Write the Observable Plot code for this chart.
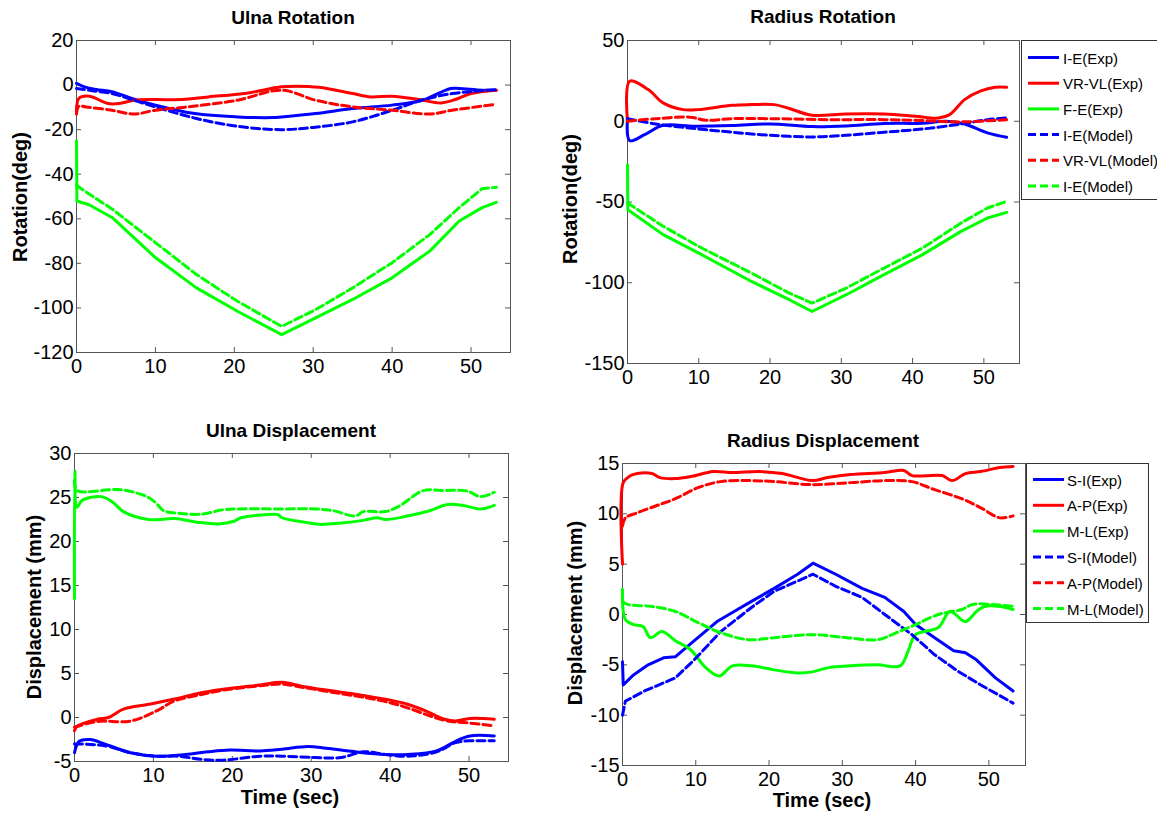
<!DOCTYPE html>
<html>
<head>
<meta charset="utf-8">
<script src="https://cdn.jsdelivr.net/npm/d3@7"></script>
<script src="https://cdn.jsdelivr.net/npm/@observablehq/plot@0.6"></script>
<style>
html,body{margin:0;padding:0;background:#fff;}
#wrap{position:relative;width:1157px;height:813px;overflow:hidden;background:#fff;font-family:"Liberation Sans",Arial,sans-serif;color:#000;}
.lbl{position:absolute;transform:translate(-50%,-50%);white-space:nowrap;font-weight:bold;}
.vlbl{position:absolute;transform:translate(-50%,-50%) rotate(-90deg);white-space:nowrap;font-weight:bold;}
.legend{position:absolute;border:1px solid #333;background:#fff;box-sizing:border-box;}
.legend .txt{position:absolute;transform:translateY(-50%);white-space:nowrap;font-size:15px;}
.legend svg{position:absolute;left:0;top:0;overflow:visible;}
</style>
</head>
<body>
<div id="wrap"></div>
<script>
// ---------------- data (time sec, value) ----------------
const xTicks = [0, 10, 20, 30, 40, 50];
const ulnaRotYTicks = [20, 0, -20, -40, -60, -80, -100, -120];
const radiusRotYTicks = [50, 0, -50, -100, -150];
const ulnaDispYTicks = [30, 25, 20, 15, 10, 5, 0, -5];
const radiusDispYTicks = [15, 10, 5, 0, -5, -10, -15];

// Ulna Rotation
const ulnaRot_IE_Exp = [[0,0.8],[1,-0.8],[2.5,-2],[4.5,-3],[7,-6],[10,-9],[15,-12.8],[20.4,-14.3],[24.9,-14.6],[26,-14.3],[30.3,-12.8],[35,-10.5],[40,-9],[43.9,-6.8],[46,-3.5],[47.4,-1.5],[48.5,-1.5],[51.4,-2.3],[53.2,-2.3]];
const ulnaRot_VRVL_Exp = [[0,-12],[0.3,-6],[1.6,-5],[4,-8.3],[5.4,-8.3],[7.3,-6.8],[10,-6.5],[13.4,-6.5],[16.7,-5.3],[21.3,-3.8],[26,-0.8],[27.9,-0.5],[30.7,-1],[35,-3.8],[37.3,-5.3],[40,-5],[43.4,-6.5],[46.2,-8],[48,-6.5],[50,-3.8],[53.2,-2.3]];
const ulnaRot_FE_Exp = [[0,-25],[0.05,-52],[1.6,-53.7],[4.5,-59.4],[10,-77.4],[15.2,-91],[20.4,-101.5],[26,-112],[30.3,-104.5],[35,-96.2],[40,-86.5],[44.8,-74.4],[48.5,-61],[51.4,-55],[53.2,-52.6]];
const ulnaRot_IE_Model = [[0,-1.5],[2,-2.5],[4.5,-3.8],[7,-6.5],[10,-9.8],[15.2,-15],[20.4,-18.5],[26,-20],[30,-19],[35,-16.5],[40,-11.3],[44,-6.5],[47.6,-3.8],[50.5,-2.8],[53.2,-2]];
const ulnaRot_VRVL_Model = [[0,-13],[0.3,-9.5],[1.2,-9.8],[4.5,-11.3],[7.3,-13],[10,-11.3],[14.8,-9.5],[20.4,-6.8],[26,-2.3],[30.3,-6.8],[35,-9.8],[40,-11.3],[44.8,-13],[47.6,-11.3],[53.2,-8.6]];
const ulnaRot_FE_Model = [[0,-45],[1.6,-48.9],[4.5,-55.6],[10,-70.7],[15.2,-85],[20.4,-97],[26,-108.3],[30.3,-100.8],[35,-91],[40,-79.7],[44.8,-67],[48.5,-55],[51.4,-46.5],[53.2,-45.9]];

// Radius Rotation
const radiusRot_IE_Exp = [[0,2],[0.3,-12],[2.4,-8.3],[5,-2.5],[9.4,-3.1],[14.7,-2.7],[20,-1.7],[25.9,-3.3],[30.7,-2.9],[36,-1.4],[41.4,-1.2],[44.7,0],[47.3,-1.7],[50.5,-7.2],[53.2,-9.9]];
const radiusRot_VRVL_Exp = [[0,0],[0.3,24.8],[2.9,19.6],[5,11.4],[7.8,7.2],[9.9,7.2],[14.7,9.9],[17.4,10.3],[20.6,10.3],[22.7,7.9],[25.9,3.7],[30.7,4.5],[36,4.5],[40.4,3.1],[43.6,2],[45.2,4.1],[47.3,13.4],[49.5,18.6],[51.6,21],[53.2,21]];
const radiusRot_FE_Exp = [[0,-27],[0.05,-54.8],[5,-70.2],[10.4,-82.6],[17.4,-99.2],[22.7,-110.5],[25.9,-117.8],[30.7,-107.4],[36,-95],[41.4,-82.6],[46.8,-68.2],[50.5,-59.9],[53.2,-56.4]];
const radiusRot_IE_Model = [[0,1.6],[4,-1.7],[9.4,-4.5],[14.7,-6.8],[20,-8.7],[25.9,-9.7],[30.7,-8.7],[36,-6.8],[41.4,-4.8],[46.8,-1.7],[50.5,1],[53.2,2]];
const radiusRot_VRVL_Model = [[0,0],[4,1.6],[8.8,2.5],[11,0.6],[14.7,1.6],[20,1.6],[28,1],[36,1],[41.4,0.4],[46.8,-0.4],[53.2,1]];
const radiusRot_FE_Model = [[0,-50.6],[5,-65],[10.4,-78.5],[17.4,-94],[22.7,-106.4],[25.9,-112.6],[30.7,-103.3],[36,-90.9],[41.4,-78.5],[46.8,-63],[50.5,-53.7],[53.2,-49.6]];

// Ulna Displacement
const ulnaDisp_SI_Exp = [[0,-4],[0.6,-2.7],[2,-2.5],[3.8,-3],[7.1,-4],[10.4,-4.4],[14.1,-4.2],[16.9,-3.9],[19.7,-3.7],[23.5,-3.8],[26.3,-3.6],[29.6,-3.3],[31.9,-3.5],[35.6,-3.9],[39.4,-4.2],[42.2,-4.2],[45.9,-3.8],[48.3,-2.7],[50.1,-2.1],[53.2,-2.1]];
const ulnaDisp_AP_Exp = [[0,-1.5],[0.3,-1],[2.9,-0.2],[4.3,0],[6.2,0.95],[9.4,1.5],[12.7,2.1],[15.5,2.7],[18.8,3.2],[23.5,3.7],[26.3,4],[29.1,3.5],[32.8,3],[36.6,2.5],[39.9,2],[42.2,1.5],[44.5,0.75],[46.9,-0.2],[48.3,-0.4],[50.1,-0.1],[53.2,-0.2]];
const ulnaDisp_ML_Exp = [[0,13.5],[0.05,28],[0.3,23.9],[1,24.7],[3.4,25.1],[4.8,24.5],[6.2,23.4],[9.4,22.5],[12.7,22.6],[15.5,22.2],[18.3,22],[20.2,22.3],[21.1,22.7],[23.5,23],[25.8,23.05],[26.3,22.7],[29.1,22.2],[31,21.95],[33.8,22.1],[36.6,22.4],[38.4,22.7],[39.4,22.5],[42.2,22.9],[45,23.5],[47.3,24.2],[49.2,24.1],[51.5,23.7],[53.2,24.1]];
const ulnaDisp_SI_Model = [[0,-3],[3.8,-3.2],[7.1,-4],[10.4,-4.4],[13.2,-4.4],[16,-4.75],[18.8,-4.85],[23.5,-4.4],[26.3,-4.4],[30.5,-4.55],[33.8,-4.55],[36.6,-3.9],[39.4,-4.2],[42.2,-4.4],[45.9,-3.9],[48.3,-2.85],[50.1,-2.65],[53.2,-2.65]];
const ulnaDisp_AP_Model = [[0,-1.1],[2.9,-0.45],[7.1,-0.4],[10.4,0.75],[12.7,1.9],[15.5,2.5],[18.8,3.1],[23.5,3.6],[26.3,3.8],[29.1,3.4],[32.8,2.85],[36.6,2.3],[39.9,1.7],[42.2,1.1],[45,0.2],[47.3,-0.4],[49.7,-0.6],[53.2,-0.95]];
const ulnaDisp_ML_Model = [[0,27],[0.3,25.8],[4.8,25.9],[6.6,25.8],[9.4,25],[10.4,24.3],[11.3,23.5],[13.2,23.2],[16,23.1],[18.8,23.6],[21.1,23.7],[26.3,23.7],[30.5,23.7],[32.8,23.5],[35.6,22.9],[36.6,23.4],[39.4,23.4],[41.3,24.1],[44.1,25.75],[46.9,25.8],[49.7,25.75],[51.5,25.1],[53.2,25.6]];

// Radius Displacement
const radiusDisp_SI_Exp = [[0,-4.7],[0.1,-7],[1.5,-6],[3.5,-5],[5.6,-4.3],[7.2,-4.2],[9.8,-2.6],[12.9,-0.7],[15,0.2],[17.6,1.3],[20.7,2.6],[23.9,4],[26,5.1],[29.1,4],[32.7,2.6],[35.8,1.7],[38.4,0.3],[40,-1],[42.6,-2.3],[45.2,-3.6],[46.8,-3.8],[48.3,-4.5],[50.9,-6.3],[53.3,-7.6]];
const radiusDisp_AP_Exp = [[0,5],[0.1,13.1],[0.9,13.7],[2,14],[4,14],[5.1,13.6],[7.2,13.5],[9.3,13.7],[12.4,14.2],[15,14.1],[18.6,14.2],[21.8,14],[25.9,13.3],[28,13.6],[31.1,13.9],[35.8,14.1],[38.4,14.3],[39.5,13.8],[43.6,13.8],[45,13.3],[46.8,14],[48.9,14.2],[51.5,14.6],[53.3,14.7]];
const radiusDisp_ML_Exp = [[0,2.5],[0.4,-0.5],[1.5,-1],[2.8,-1.2],[3.8,-2.3],[5.4,-1.7],[7.2,-2.6],[9.3,-3.5],[11.4,-5.3],[13.2,-6.1],[15,-5.1],[17.6,-5.1],[20.7,-5.5],[23.9,-5.8],[25.9,-5.7],[28,-5.3],[31.1,-5.1],[34.8,-5],[37.9,-5.1],[39,-3.6],[40,-2],[43.1,-1.3],[44.7,0.3],[46.8,-0.7],[48.3,0.3],[49.4,0.8],[51.5,0.8],[53.3,0.5]];
const radiusDisp_SI_Model = [[0,-10],[0.4,-8.6],[3,-7.6],[7.2,-6.3],[9.8,-4.5],[13.4,-1.7],[17.6,0.7],[20.7,2.3],[26,4],[29.1,2.8],[32.7,1.7],[35.8,0],[39.5,-2],[42.6,-4],[45.7,-5.6],[48.9,-7],[53.3,-8.8]];
const radiusDisp_AP_Model = [[0,8.8],[0.4,9.6],[2,10.1],[4.6,10.8],[7.2,11.5],[10.3,12.6],[13.4,13.2],[17.6,13.3],[20.7,13.2],[25.9,12.9],[31.1,13.1],[35.8,13.3],[39.5,13.2],[42.6,12.4],[46.3,11.5],[48.9,10.6],[51.5,9.6],[53.3,9.8]];
const radiusDisp_ML_Model = [[0,1.3],[0.7,1],[4,0.8],[7.2,0.3],[10.3,-0.8],[13.4,-1.8],[17.1,-2.5],[20.7,-2.3],[25.9,-2],[30.6,-2.3],[34.8,-2.5],[37.4,-1.8],[40,-1],[43.1,0],[46.3,0.5],[47.8,1],[50.4,1],[53.3,0.8]];

const rotLabels = ["I-E(Exp)", "VR-VL(Exp)", "F-E(Exp)", "I-E(Model)", "VR-VL(Model)", "I-E(Model)"];
const dispLabels = ["S-I(Exp)", "A-P(Exp)", "M-L(Exp)", "S-I(Model)", "A-P(Model)", "M-L(Model)"];

// ---------------- styling / layout ----------------
const W = 1157, H = 813;
const BLUE = "#0000ff", RED = "#ff0000", GREEN = "#00ff00";
const colors = [BLUE, RED, GREEN, BLUE, RED, GREEN];
const dashed = [false, false, false, true, true, true];
const DASH = "8,4";
const FRAME = "#555";

const panels = [
  {title: "Ulna Rotation", ylabel: "Rotation(deg)", xlabel: null,
   frame: {l: 76, t: 40, r: 510, b: 352}, yDomain: [-120, 20], yTicks: ulnaRotYTicks,
   series: [ulnaRot_IE_Exp, ulnaRot_VRVL_Exp, ulnaRot_FE_Exp, ulnaRot_IE_Model, ulnaRot_VRVL_Model, ulnaRot_FE_Model],
   sharp: [false, false, true, false, false, true],
   titlePos: [293, 18], ylabelPos: [20, 197], xlabelPos: null, legend: null},
  {title: "Radius Rotation", ylabel: "Rotation(deg)", xlabel: null,
   frame: {l: 627, t: 40, r: 1019, b: 363}, yDomain: [-150, 50], yTicks: radiusRotYTicks,
   series: [radiusRot_IE_Exp, radiusRot_VRVL_Exp, radiusRot_FE_Exp, radiusRot_IE_Model, radiusRot_VRVL_Model, radiusRot_FE_Model],
   sharp: [false, false, true, false, false, true],
   titlePos: [823, 17], ylabelPos: [570, 199], xlabelPos: null,
   legend: {labels: rotLabels, l: 1021, t: 40, w: 150, h: 160, row0: 16.5, step: 25.7, sx0: 6, sx1: 37, tx: 41}},
  {title: "Ulna Displacement", ylabel: "Displacement (mm)", xlabel: "Time (sec)",
   frame: {l: 74, t: 453, r: 508, b: 761}, yDomain: [-5, 30], yTicks: ulnaDispYTicks,
   series: [ulnaDisp_SI_Exp, ulnaDisp_AP_Exp, ulnaDisp_ML_Exp, ulnaDisp_SI_Model, ulnaDisp_AP_Model, ulnaDisp_ML_Model],
   sharp: [false, false, false, false, false, false],
   titlePos: [291, 431], ylabelPos: [34, 607], xlabelPos: [290, 797], legend: null},
  {title: "Radius Displacement", ylabel: "Displacement (mm)", xlabel: "Time (sec)",
   frame: {l: 622, t: 463, r: 1025, b: 765}, yDomain: [-15, 15], yTicks: radiusDispYTicks,
   series: [radiusDisp_SI_Exp, radiusDisp_AP_Exp, radiusDisp_ML_Exp, radiusDisp_SI_Model, radiusDisp_AP_Model, radiusDisp_ML_Model],
   sharp: [true, false, false, true, false, false],
   titlePos: [823, 441], ylabelPos: [575, 613], xlabelPos: [822, 800],
   legend: {labels: dispLabels, l: 1026, t: 463, w: 123, h: 160, row0: 15.5, step: 25.8, sx0: 6, sx1: 37, tx: 40}}
];

const wrap = document.getElementById("wrap");
const fmt = d => String(d);

for (const p of panels) {
  const f = p.frame, fw = f.r - f.l, fh = f.b - f.t;
  const lineMarks = p.series.map((s, i) => Plot.line(s, {
    x: d => d[0], y: d => d[1], stroke: colors[i], strokeWidth: 3,
    ...(dashed[i] ? {strokeDasharray: DASH} : {}),
    curve: p.sharp[i] ? "linear" : "catmull-rom"
  }));
  const svg = Plot.plot({
    width: W, height: H,
    marginLeft: f.l, marginTop: f.t, marginRight: W - f.r, marginBottom: H - f.b,
    style: {background: "transparent", fontFamily: "'Liberation Sans', Arial, sans-serif", fontSize: "20px", color: "#000", overflow: "visible"},
    x: {domain: [0, 55], label: null},
    y: {domain: p.yDomain, label: null},
    marks: [
      Plot.frame({stroke: FRAME, strokeWidth: 1}),
      Plot.tickX(xTicks, {x: d => d, insetTop: fh - 5, stroke: FRAME}),
      Plot.tickX(xTicks, {x: d => d, insetBottom: fh - 5, stroke: FRAME}),
      Plot.tickY(p.yTicks, {y: d => d, insetRight: fw - 5, stroke: FRAME}),
      Plot.tickY(p.yTicks, {y: d => d, insetLeft: fw - 5, stroke: FRAME}),
      ...lineMarks,
      Plot.axisX(xTicks, {anchor: "bottom", tickSize: 0, tickPadding: 6, tickFormat: fmt, label: null, fill: "#000"}),
      Plot.axisY(p.yTicks, {anchor: "left", tickSize: 0, tickPadding: 3, tickFormat: fmt, label: null, fill: "#000"})
    ]
  });
  svg.style.position = "absolute";
  svg.style.left = "0px";
  svg.style.top = "0px";
  svg.style.background = "transparent";
  svg.style.maxWidth = "none";
  wrap.appendChild(svg);

  const t = document.createElement("div");
  t.className = "lbl"; t.textContent = p.title;
  t.style.left = p.titlePos[0] + "px"; t.style.top = p.titlePos[1] + "px"; t.style.fontSize = "19px";
  wrap.appendChild(t);

  const yl = document.createElement("div");
  yl.className = "vlbl"; yl.textContent = p.ylabel;
  yl.style.left = p.ylabelPos[0] + "px"; yl.style.top = p.ylabelPos[1] + "px"; yl.style.fontSize = "20px";
  wrap.appendChild(yl);

  if (p.xlabel) {
    const xl = document.createElement("div");
    xl.className = "lbl"; xl.textContent = p.xlabel;
    xl.style.left = p.xlabelPos[0] + "px"; xl.style.top = p.xlabelPos[1] + "px"; xl.style.fontSize = "20px";
    wrap.appendChild(xl);
  }

  if (p.legend) {
    const L = p.legend;
    const box = document.createElement("div");
    box.className = "legend";
    box.style.left = L.l + "px"; box.style.top = L.t + "px";
    box.style.width = L.w + "px"; box.style.height = L.h + "px";
    const sw = d3.create("svg").attr("width", L.w).attr("height", L.h);
    L.labels.forEach((lab, i) => {
      const y = L.row0 + i * L.step;
      sw.append("line").attr("x1", L.sx0).attr("x2", L.sx1).attr("y1", y).attr("y2", y)
        .attr("stroke", colors[i]).attr("stroke-width", 3)
        .attr("stroke-dasharray", dashed[i] ? DASH : null);
      const tx = document.createElement("div");
      tx.className = "txt"; tx.textContent = lab;
      tx.style.left = L.tx + "px"; tx.style.top = y + "px";
      box.appendChild(tx);
    });
    box.appendChild(sw.node());
    wrap.appendChild(box);
  }
}
</script>
</body>
</html>
